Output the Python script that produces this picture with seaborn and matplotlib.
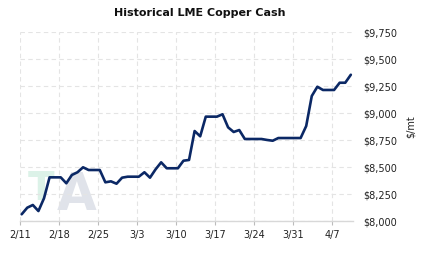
import numpy as np
import pandas as pd
import matplotlib
matplotlib.use("Agg")
import matplotlib.pyplot as plt
import seaborn as sns

# ---- data ----
start_date = "2024-02-11"
prices = [8065, 8126, 8151, 8095, 8213, 8407, 8407, 8407, 8352, 8429,
          8454, 8500, 8475, 8475, 8475, 8361, 8370, 8348, 8404, 8413,
          8413, 8413, 8454, 8404, 8481, 8546, 8491, 8491, 8491, 8561,
          8568, 8836, 8787, 8969, 8969, 8969, 8991, 8870, 8827, 8845,
          8762, 8762, 8762, 8762, 8753, 8746, 8771, 8771, 8771, 8771,
          8771, 8882, 9160, 9246, 9216, 9216, 9216, 9283, 9283, 9357]
tick_labels = ["2/11", "2/18", "2/25", "3/3", "3/10", "3/17", "3/24", "3/31", "4/7"]
y_ticks = [8000, 8250, 8500, 8750, 9000, 9250, 9500, 9750]
title = "Historical LME Copper Cash"
y_label = "$/mt"

dates = pd.date_range(start_date, periods=len(prices), freq="D")
t0 = pd.Timestamp(start_date)
df = pd.DataFrame({
    "day": (dates - t0).days.values + 0.3,
    "price": prices,
})
tick_pos = [7 * i for i in range(len(tick_labels))]

sns.set_style("white")
plt.rcParams["font.family"] = ["DejaVu Sans"]

fig = plt.figure(figsize=(4.23, 2.57), dpi=100)
ax = fig.add_axes([20 / 423, 1 - 221.3 / 257, (352.5 - 20) / 423, (221.3 - 32.3) / 257])

# watermark
ax.text(1.45, 8197, "T", fontsize=28, fontweight="bold",
        color="#dcf2e8", zorder=0, ha="left", va="baseline")
ax.text(6.5, 8105, "A", fontsize=37, fontweight="bold",
        color="#e0e3ea", zorder=0, ha="left", va="baseline")

sns.lineplot(data=df, x="day", y="price", ax=ax, color="#0b2865",
             linewidth=1.9, zorder=3)

ax.set_xlim(0, 59.6)
ax.set_ylim(8000, 9750)
ax.set_xticks(tick_pos)
ax.set_xticklabels(tick_labels, fontsize=7, color="#222222")
ax.set_yticks(y_ticks)
ax.set_yticklabels([f"${v:,}" for v in y_ticks], fontsize=7, color="#222222")
ax.yaxis.tick_right()
ax.yaxis.set_label_position("right")
ax.set_xlabel("")
ax.set_ylabel(y_label, fontsize=7, color="#222222", labelpad=6)

ax.grid(True, color="#e4e4e4", linestyle=(0, (4, 3)), linewidth=0.8)
for s in ["top", "left", "right"]:
    ax.spines[s].set_visible(False)
ax.spines["bottom"].set_color("#d8d8d8")
ax.spines["bottom"].set_linewidth(1.0)
ax.tick_params(axis="x", length=3, color="#bbbbbb", pad=3, direction="out", bottom=True)
ax.tick_params(axis="y", length=0, pad=8)

fig.text(200 / 423, 1 - 13 / 257, title, ha="center", va="center",
         fontsize=8, fontweight="bold", color="#111111")

fig.savefig("out.png", dpi=100)
